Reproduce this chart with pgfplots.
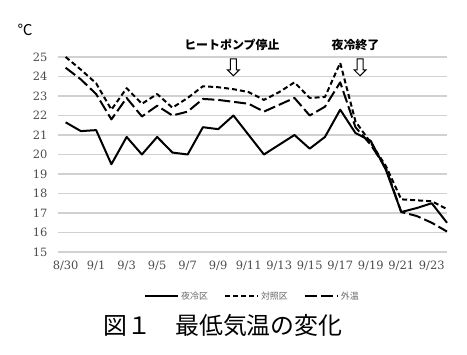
\documentclass[border=0pt]{standalone}
\usepackage{pgfplots}
\pgfplotsset{compat=1.18}
\usetikzlibrary{shapes.arrows}
\usepackage{fontspec}
\setmainfont{DejaVu Serif}
\newfontfamily\cjk{Noto Sans CJK JP}

\begin{document}
\begin{tikzpicture}
\useasboundingbox (0,0) rectangle (467bp,355bp);
\begin{axis}[
  at={(58bp,103bp)}, anchor=south west,
  scale only axis, width=389bp, height=195bp,
  xmin=-0.5, xmax=25, ymin=15, ymax=25,
  clip=false,
  axis line style={draw=none},
  major tick length=0pt,
  ymajorgrids, grid style={line width=1.2bp, black!18},
  xtick={0,2,...,24},
  xticklabels={8/30,9/1,9/3,9/5,9/7,9/9,9/11,9/13,9/15,9/17,9/19,9/21,9/23},
  ytick={15,16,...,25},
  /pgf/number format/assume math mode=true,
  tick label style={font=\fontsize{11.5}{13}\selectfont, text=black!70},
  yticklabel style={xshift=-7bp},
  xticklabel style={yshift=-5bp},
  legend style={at={(axis description cs:0.5,-0.226)}, anchor=center, draw=none,
    font=\cjk\fontsize{9}{9}\selectfont, text=black!60,
    /tikz/every even column/.append style={column sep=14bp}},
  legend columns=3,
  legend image code/.code={\draw[#1] (0bp,0bp) -- (33bp,0bp);},
]
\addplot[black, line width=2bp, line join=round] coordinates {
(0,21.65) (1,21.2) (2,21.25) (3,19.5) (4,20.9) (5,20.0) (6,20.9) (7,20.1) (8,20.0)
(9,21.4) (10,21.3) (11,22.0) (12,21.0) (13,20.0) (14,20.5) (15,21.0) (16,20.3)
(17,20.9) (18,22.3) (19,21.1) (20,20.7) (21,19.2) (22,17.05) (23,17.25) (24,17.5) (25,16.5)};
\addlegendentry{夜冷区}
\addplot[black, line width=2bp, line join=round, dash pattern=on 5bp off 3bp] coordinates {
(0,25.0) (1,24.35) (2,23.65) (3,22.3) (4,23.4) (5,22.6) (6,23.1) (7,22.4) (8,22.9)
(9,23.5) (10,23.45) (11,23.35) (12,23.2) (13,22.8) (14,23.2) (15,23.7) (16,22.9)
(17,22.95) (18,24.7) (19,21.7) (20,20.6) (21,19.4) (22,17.7) (23,17.65) (24,17.6) (25,17.2)};
\addlegendentry{対照区}
\addplot[black, line width=2bp, line join=round, dash pattern=on 12bp off 4bp] coordinates {
(0,24.45) (1,23.85) (2,23.1) (3,21.8) (4,22.9) (5,21.95) (6,22.5) (7,22.0) (8,22.2)
(9,22.85) (10,22.8) (11,22.7) (12,22.6) (13,22.2) (14,22.55) (15,22.9) (16,22.0)
(17,22.45) (18,23.7) (19,21.4) (20,20.5) (21,19.3) (22,17.05) (23,16.85) (24,16.5) (25,16.05)};
\addlegendentry{外温}

\node[font=\cjk\bfseries\fontsize{12}{12}\selectfont] at (axis cs:10.9,25.6) {ヒートポンプ停止};
\node[font=\cjk\bfseries\fontsize{12}{12}\selectfont] at (axis cs:19.0,25.6) {夜冷終了};
\node[single arrow, draw=black, fill=white, line width=1bp, shape border rotate=270,
  minimum height=17bp, inner sep=2.5bp, single arrow head extend=3bp] at (axis cs:11.0,24.55) {};
\node[single arrow, draw=black, fill=white, line width=1bp, shape border rotate=270,
  minimum height=17bp, inner sep=2.5bp, single arrow head extend=3bp] at (axis cs:19.3,24.55) {};
\end{axis}
\node[font=\cjk\fontsize{15}{15}\selectfont] at (25bp,325bp) {℃};
\node[font=\cjk\fontsize{24}{24}\selectfont] at (223bp,30bp) {図１　最低気温の変化};
\end{tikzpicture}
\end{document}
